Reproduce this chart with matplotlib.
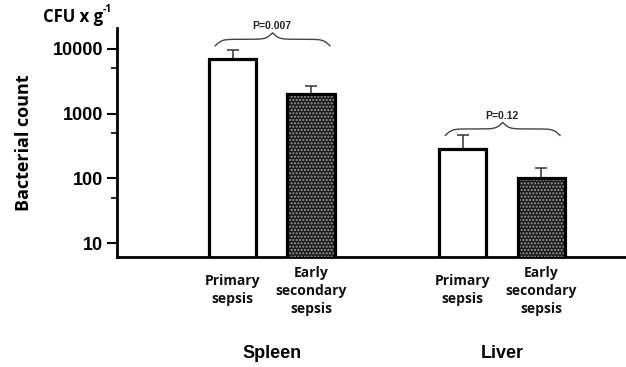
import matplotlib.pyplot as plt
import numpy as np

# values (CFU per gram)
groups = ['Spleen', 'Liver']
conditions = ['Primary\nsepsis', 'Early\nsecondary\nsepsis']
means = [7000, 2000, 280, 100]
err_up = [2400, 650, 180, 42]
pvals = ['P=0.007', 'P=0.12']

pos = np.array([1.0, 2.0, 3.93, 4.93])
w = 0.6

fig = plt.figure(figsize=(6.26, 3.67), dpi=100)
ax = fig.add_axes([0.187, 0.30, 0.813, 0.624])
ax.set_yscale('log')
ax.set_ylim(6.1, 21000)
ax.set_xlim(-0.47, 6.01)

fills = ['white', '#1c1c1c', 'white', '#1c1c1c']
ax.bar(pos, means, width=w, bottom=1, color=fills, edgecolor='black', linewidth=0, zorder=2)
# dotted texture on the "early secondary" bars
ax.bar(pos[1::2], np.array(means)[1::2], width=w, bottom=1, color='none', edgecolor='#9a9a9a',
       hatch='.....', linewidth=0, zorder=3)
ax.bar(pos, means, width=w, bottom=1, color='none', edgecolor='black', linewidth=2.3, zorder=4)
ax.errorbar(pos, means, yerr=[np.zeros(4), err_up], fmt='none', ecolor='#333333',
            elinewidth=1.1, capsize=4, capthick=1.1, zorder=1)

# curly braces with p-values
def brace(x1, x2, yb, h):
    t = np.linspace(0, 0.5, 300)
    beta = 35
    yh = 1/(1+np.exp(-beta*(t-0.0))) + 1/(1+np.exp(-beta*(t-0.5)))
    yy = np.concatenate([yh, yh[-2::-1]])
    xx = np.linspace(x1, x2, len(yy))
    yy = yb + (yy - 0.5) * h
    ax.plot(xx, 10**yy, color='#444444', lw=1.0, clip_on=False, zorder=5)

def logy(py):
    return 4 + (49 - py) / 65.0

brace(pos[0]-0.22, pos[1]+0.24, logy(46), (46-33)/65.0)
ax.text((pos[0]+pos[1])/2, 10**logy(26), pvals[0], ha='center', va='center',
        fontsize=7.5, fontweight='bold', family='Liberation Sans', color='#222222')
brace(pos[2]-0.22, pos[3]+0.24, logy(136), (136-123)/65.0)
ax.text((pos[2]+pos[3])/2, 10**logy(117), pvals[1], ha='center', va='center',
        fontsize=7.5, fontweight='bold', family='Liberation Sans', color='#222222')

for s in ['top', 'right']:
    ax.spines[s].set_visible(False)
ax.spines['left'].set_linewidth(2)
ax.spines['bottom'].set_linewidth(2)
ax.set_yticks([10, 100, 1000, 10000])
ax.set_yticklabels(['10', '100', '1000', '10000'])
ax.set_yticks([50, 500, 5000], minor=True)
ax.yaxis.set_minor_formatter(plt.NullFormatter())
ax.tick_params(axis='y', which='major', length=7, width=1.5, labelsize=13, pad=3)
ax.tick_params(axis='y', which='minor', length=4, width=1.2)
for lb in ax.get_yticklabels():
    lb.set_fontweight('bold')
    lb.set_family('Liberation Sans')
ax.set_xticks([])

ax.set_ylabel('Bacterial count', fontsize=13, fontweight='bold', family='Open Sans', labelpad=14)
fig.text(43/626, 1-17/367, 'CFU x g', fontsize=12, fontweight='bold', family='Open Sans',
         va='center', ha='left')
fig.text(103/626, 1-9/367, '-1', fontsize=7.5, fontweight='bold', family='Open Sans',
         va='center', ha='left')

trans = ax.get_xaxis_transform()
for i, p in enumerate(pos):
    lab = conditions[i % 2]
    ytop = -0.075 if i % 2 == 0 else -0.04
    ax.text(p, ytop, lab, transform=trans, ha='center', va='top', fontsize=10,
            fontweight='bold', family='Open Sans', linespacing=1.35, color='#111111')
for g, c in zip(groups, [(pos[0]+pos[1])/2, (pos[2]+pos[3])/2]):
    ax.text(c, -0.42, g, transform=trans, ha='center', va='center', fontsize=13,
            fontweight='bold', family='Liberation Sans')

fig.savefig('out.png', dpi=100)
